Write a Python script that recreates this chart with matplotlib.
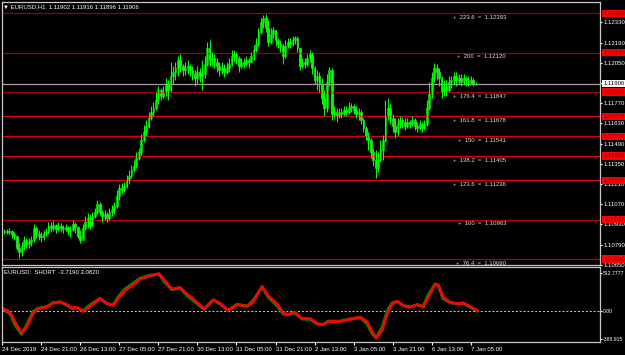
import matplotlib
matplotlib.use('Agg')
import matplotlib.pyplot as plt
from matplotlib.transforms import blended_transform_factory

plt.rcParams['font.family'] = ['Liberation Sans', 'DejaVu Sans']

# ---- chart data (EURUSD H1) ----
header_text = '▼ EURUSD,H1  1.11902 1.11916 1.11896 1.11906'
osc_header = 'EURUSD:  SHORT  -3.7190 3.0820'

first_open = 1.10877
closes = [1.10884, 1.10877, 1.10884, 1.10863, 1.10850, 1.10766, 1.10739, 1.10780, 1.10822, 1.10794,
          1.10808, 1.10822, 1.10905, 1.10863, 1.10850, 1.10843, 1.10870, 1.10877, 1.10919, 1.10905,
          1.10926, 1.10898, 1.10919, 1.10905, 1.10898, 1.10912, 1.10884, 1.10891, 1.10933, 1.10912,
          1.10850, 1.10822, 1.10905, 1.10947, 1.10974, 1.10919, 1.10988, 1.11016, 1.11071, 1.11016,
          1.10988, 1.11002, 1.10974, 1.11016, 1.11030, 1.11057, 1.11127, 1.11182, 1.11168, 1.11196,
          1.11237, 1.11265, 1.11307, 1.11335, 1.11390, 1.11432, 1.11515, 1.11570, 1.11612, 1.11667,
          1.11709, 1.11737, 1.11792, 1.11861, 1.11820, 1.11847, 1.11903, 1.11861, 1.11958, 1.11986,
          1.12014, 1.12069, 1.12027, 1.12000, 1.12014, 1.12027, 1.12000, 1.11972, 1.11944, 1.11986,
          1.11958, 1.11972, 1.12042, 1.12152, 1.12069, 1.12083, 1.12055, 1.12027, 1.12000, 1.12014,
          1.11986, 1.12014, 1.12042, 1.12097, 1.12111, 1.12083, 1.12027, 1.12055, 1.12042, 1.12069,
          1.12055, 1.12097, 1.12139, 1.12180, 1.12263, 1.12333, 1.12360, 1.12291, 1.12194, 1.12249,
          1.12277, 1.12208, 1.12180, 1.12166, 1.12097, 1.12166, 1.12194, 1.12180, 1.12208, 1.12222,
          1.12152, 1.12027, 1.12055, 1.12042, 1.12083, 1.12111, 1.12014, 1.11931, 1.11958, 1.11903,
          1.11806, 1.11737, 1.11917, 1.12000, 1.11695, 1.11709, 1.11681, 1.11709, 1.11695, 1.11723,
          1.11709, 1.11737, 1.11750, 1.11723, 1.11695, 1.11709, 1.11653, 1.11598, 1.11543, 1.11515,
          1.11432, 1.11376, 1.11321, 1.11376, 1.11446, 1.11515, 1.11681, 1.11737, 1.11667, 1.11612,
          1.11570, 1.11626, 1.11653, 1.11640, 1.11612, 1.11640, 1.11626, 1.11653, 1.11612, 1.11598,
          1.11626, 1.11598, 1.11626, 1.11737, 1.11833, 1.11944, 1.12014, 1.11986, 1.11944, 1.11847,
          1.11889, 1.11861, 1.11917, 1.11931, 1.11958, 1.11931, 1.11944, 1.11917, 1.11944, 1.11931,
          1.11917, 1.11931, 1.11902, 1.11906]
highs = [1.10898, 1.10898, 1.10905, 1.10891, 1.10877, 1.10857, 1.10801, 1.10808, 1.10850, 1.10836,
         1.10836, 1.10850, 1.10933, 1.10919, 1.10891, 1.10877, 1.10891, 1.10905, 1.10947, 1.10947,
         1.10954, 1.10933, 1.10947, 1.10940, 1.10926, 1.10933, 1.10919, 1.10919, 1.10960, 1.10947,
         1.10919, 1.10891, 1.10933, 1.10988, 1.11009, 1.11002, 1.11016, 1.11044, 1.11099, 1.11085,
         1.11030, 1.11030, 1.11016, 1.11044, 1.11064, 1.11085, 1.11168, 1.11210, 1.11217, 1.11224,
         1.11272, 1.11307, 1.11342, 1.11376, 1.11432, 1.11459, 1.11556, 1.11619, 1.11653, 1.11709,
         1.11750, 1.11778, 1.11847, 1.11889, 1.11875, 1.11889, 1.11944, 1.11931, 1.12055, 1.12027,
         1.12055, 1.12097, 1.12111, 1.12042, 1.12055, 1.12069, 1.12042, 1.12027, 1.12000, 1.12027,
         1.12014, 1.12069, 1.12097, 1.12194, 1.12208, 1.12125, 1.12111, 1.12083, 1.12055, 1.12055,
         1.12042, 1.12055, 1.12083, 1.12139, 1.12139, 1.12125, 1.12097, 1.12083, 1.12083, 1.12097,
         1.12083, 1.12125, 1.12173, 1.12222, 1.12291, 1.12360, 1.12381, 1.12388, 1.12346, 1.12291,
         1.12298, 1.12277, 1.12222, 1.12208, 1.12180, 1.12208, 1.12222, 1.12222, 1.12236, 1.12236,
         1.12236, 1.12152, 1.12083, 1.12083, 1.12111, 1.12139, 1.12125, 1.12027, 1.12000, 1.11986,
         1.11944, 1.11861, 1.11972, 1.12021, 1.12014, 1.11750, 1.11737, 1.11737, 1.11737, 1.11750,
         1.11750, 1.11778, 1.11771, 1.11764, 1.11750, 1.11737, 1.11723, 1.11667, 1.11612, 1.11570,
         1.11529, 1.11459, 1.11446, 1.11432, 1.11515, 1.11549, 1.11792, 1.11806, 1.11764, 1.11695,
         1.11667, 1.11667, 1.11681, 1.11674, 1.11667, 1.11667, 1.11653, 1.11681, 1.11667, 1.11640,
         1.11653, 1.11640, 1.11653, 1.11792, 1.11917, 1.11986, 1.12049, 1.12042, 1.12014, 1.11958,
         1.11931, 1.11931, 1.11958, 1.11958, 1.11986, 1.11986, 1.11972, 1.11972, 1.11972, 1.11958,
         1.11958, 1.11958, 1.11944, 1.11916]
lows = [1.10863, 1.10863, 1.10863, 1.10836, 1.10822, 1.10753, 1.10697, 1.10711, 1.10753, 1.10766,
        1.10766, 1.10780, 1.10808, 1.10836, 1.10822, 1.10808, 1.10822, 1.10850, 1.10863, 1.10877,
        1.10884, 1.10870, 1.10884, 1.10877, 1.10870, 1.10884, 1.10857, 1.10843, 1.10884, 1.10870,
        1.10836, 1.10801, 1.10836, 1.10891, 1.10905, 1.10898, 1.10919, 1.10974, 1.11002, 1.10995,
        1.10947, 1.10960, 1.10947, 1.10960, 1.10988, 1.11002, 1.11044, 1.11099, 1.11147, 1.11154,
        1.11182, 1.11210, 1.11251, 1.11293, 1.11321, 1.11376, 1.11411, 1.11501, 1.11543, 1.11598,
        1.11653, 1.11681, 1.11723, 1.11764, 1.11792, 1.11806, 1.11820, 1.11792, 1.11847, 1.11903,
        1.11931, 1.11958, 1.11986, 1.11958, 1.11965, 1.11972, 1.11958, 1.11931, 1.11889, 1.11903,
        1.11917, 1.11861, 1.11944, 1.12027, 1.12027, 1.12027, 1.12014, 1.11986, 1.11958, 1.11972,
        1.11951, 1.11972, 1.11986, 1.12027, 1.12055, 1.12042, 1.11986, 1.12014, 1.12014, 1.12027,
        1.12014, 1.12055, 1.12069, 1.12125, 1.12166, 1.12249, 1.12291, 1.12263, 1.12166, 1.12180,
        1.12222, 1.12166, 1.12152, 1.12125, 1.12042, 1.12083, 1.12152, 1.12152, 1.12166, 1.12180,
        1.12125, 1.12000, 1.12014, 1.12014, 1.12027, 1.12055, 1.11972, 1.11903, 1.11861, 1.11847,
        1.11764, 1.11681, 1.11709, 1.11889, 1.11653, 1.11667, 1.11640, 1.11667, 1.11667, 1.11681,
        1.11681, 1.11695, 1.11709, 1.11695, 1.11667, 1.11653, 1.11626, 1.11570, 1.11515, 1.11446,
        1.11390, 1.11335, 1.11251, 1.11293, 1.11362, 1.11376, 1.11501, 1.11653, 1.11626, 1.11570,
        1.11529, 1.11543, 1.11598, 1.11598, 1.11584, 1.11598, 1.11598, 1.11612, 1.11584, 1.11570,
        1.11584, 1.11570, 1.11584, 1.11612, 1.11723, 1.11806, 1.11917, 1.11931, 1.11889, 1.11806,
        1.11820, 1.11820, 1.11847, 1.11875, 1.11903, 1.11889, 1.11903, 1.11889, 1.11903, 1.11889,
        1.11889, 1.11903, 1.11889, 1.11896]

fib_levels = [223.6, 200, 176.4, 161.8, 150, 138.2, 123.6, 100, 76.4]
fib_prices = [1.12393, 1.12120, 1.11847, 1.11678, 1.11541, 1.11405, 1.11236, 1.10963, 1.10690]
fib_colors = ['#9a0000', '#a00000', '#a00000', '#e00000', '#e00000', '#e00000', '#e00000', '#b80000', '#b00000']
last_price = 1.11906

price_ticks = [1.12330, 1.12190, 1.12050, 1.11910, 1.11770, 1.11630, 1.11490,
               1.11350, 1.11210, 1.11070, 1.10930, 1.10790, 1.10650]

date_bars = [-1, 15, 31, 47, 63, 79, 95, 111, 127, 143, 159, 175, 191]
date_labels = ['24 Dec 2019', '24 Dec 21:00', '26 Dec 13:00', '27 Dec 05:00', '27 Dec 21:00',
               '30 Dec 13:00', '31 Dec 05:00', '31 Dec 21:00', '2 Jan 13:00', '3 Jan 05:00',
               '3 Jan 21:00', '6 Jan 13:00', '7 Jan 05:00']

# oscillator (bar position, value)
osc_bar = [-1.8, 2.3, 4.3, 7.0, 9.1, 11.7, 13.7, 17.4, 19.9, 22.7, 25.6, 27.7, 29.7, 32.2, 35.0,
           39.1, 42.0, 44.5, 46.5, 49.4, 52.7, 55.5, 59.6, 63.3, 65.8, 68.6, 71.9, 74.8, 78.1, 81.8,
           85.5, 88.3, 91.6, 95.3, 99.4, 101.8, 105.5, 108.0, 111.7, 114.1, 116.2, 119.0, 121.9,
           125.2, 128.1, 130.5, 132.6, 137.5, 141.6, 145.7, 148.6, 150.6, 152.3, 154.7, 156.8,
           158.8, 160.9, 163.4, 166.2, 169.1, 171.5, 173.6, 176.4, 177.7, 179.7, 182.6, 185.9,
           187.9, 190.8, 193.7]
osc_red = [51, -16, -150, -299, -218, -38, 30, 51, 105, 124, 87, 38, 51, -3, 61, 164, 105, 74, 164,
           276, 357, 433, 478, 509, 410, 299, 320, 231, 141, 28, 151, 105, 7, 87, 61, 118, 334, 209,
           97, -30, -47, -16, -105, -105, -172, -186, -145, -145, -114, -83, -150, -285, -366, -262,
           -38, 97, 132, 74, 51, 87, 51, 186, 366, 357, 186, 118, 97, 110, 61, 3.082]
osc_green = [45, -40, -190, -315, -190, -10, 35, 60, 112, 122, 78, 34, 42, 0, 80, 170, 98, 80, 190,
             300, 375, 445, 485, 500, 385, 290, 312, 210, 120, 20, 150, 95, 10, 90, 65, 140, 330, 190,
             70, -40, -50, -30, -110, -115, -180, -185, -140, -140, -110, -90, -180, -310, -370, -220,
             0, 110, 128, 68, 55, 85, 60, 220, 368, 340, 165, 112, 96, 105, 50, -3.719]
osc_ticks = [512.7777, 0.0, -388.915]
osc_tick_labels = ['512.7777', '0.00', '-388.915']

FS = 4.3
W, H = 625, 355


def style_axes(ax):
    ax.set_facecolor('black')
    for s in ax.spines.values():
        s.set_color('#c8c8c8')
        s.set_linewidth(0.9)
    ax.yaxis.tick_right()
    ax.tick_params(axis='y', colors='white', labelsize=FS, length=1.5, width=0.8, pad=1.0)


def draw_candles(ax):
    opens = [first_open] + closes[:-1]  # H1 forex bars open at previous close
    opens[-1] = 1.11902
    bars = list(range(len(closes)))
    bottoms, heights, fills = [], [], []
    for o, c in zip(opens, closes):
        bottoms.append(min(o, c))
        heights.append(abs(c - o))
        fills.append('#00b400' if c >= o else '#d8ffd8')
    ax.vlines(bars, lows, highs, color='#00ff00', lw=0.8)
    ax.bar(bars, heights, bottom=bottoms, width=0.72, color=fills,
           edgecolor='#00ff00', linewidth=0.4)


fig = plt.figure(figsize=(W / 100, H / 100), dpi=100, facecolor='black')
ax = fig.add_axes([2 / W, 1 - 265 / H, 598 / W, 263 / H])
ax2 = fig.add_axes([2 / W, 1 - 342 / H, 598 / W, 75 / H])
style_axes(ax)
style_axes(ax2)

# main price window
ax.set_xlim(-1.02, 243.9)
ax.set_ylim(1.10649, 1.12471)
ax.set_xticks([])
trans = blended_transform_factory(ax.transAxes, ax.transData)

for lvl, p, col in zip(fib_levels, fib_prices, fib_colors):
    ax.axhline(p, color=col, lw=0.9)
    ax.annotate('+  %g  =  %.5f' % (lvl, p), xy=(0.843, p), xycoords=trans,
                xytext=(0, -1.2), textcoords='offset points', ha='right', va='top',
                fontsize=FS, color='#dcdcdc')
ax.axhline(last_price, color='#a0a0a0', lw=0.9)

draw_candles(ax)

ax.set_yticks(price_ticks)
ax.set_yticklabels(['%.5f' % t for t in price_ticks])

for p in fib_prices:
    ax.annotate('%.5f' % p, xy=(1, p), xycoords=trans, xytext=(2.2, 0),
                textcoords='offset points', ha='left', va='center', fontsize=FS,
                color='#8a0000', annotation_clip=False,
                bbox=dict(boxstyle='square,pad=0.2', fc='#ff0000', ec='none'))
ax.annotate('%.5f' % last_price, xy=(1, last_price), xycoords=trans, xytext=(2.2, 0),
            textcoords='offset points', ha='left', va='center', fontsize=FS,
            color='black', annotation_clip=False,
            bbox=dict(boxstyle='square,pad=0.2', fc='white', ec='none'))

# oscillator window
ax2.set_xlim(-1.02, 243.9)
ax2.set_ylim(-424, 599)
ax2.axhline(0, color='#d0d0d0', lw=0.7, ls=(0, (2, 2)))
ax2.plot(osc_bar, osc_green, color='#008a00', lw=2.2, solid_capstyle='round')
ax2.plot(osc_bar, osc_red, color='#ff0000', lw=2.0, solid_capstyle='round')
ax2.set_yticks(osc_ticks)
ax2.set_yticklabels(osc_tick_labels, fontsize=3.7)
ax2.tick_params(axis='y', pad=0.6)
ax2.set_xticks(date_bars)
ax2.set_xticklabels(date_labels)
ax2.tick_params(axis='x', colors='white', labelsize=FS, length=2.2, width=0.8, pad=1.2)
for lbl in ax2.get_xticklabels():
    lbl.set_ha('left')

fig.text(3 / W, 1 - 7 / H, header_text, color='white', fontsize=FS, va='center', ha='left')
fig.text(4 / W, 1 - 273 / H, osc_header, color='white', fontsize=FS, va='center', ha='left')

fig.savefig('out.png', dpi=100, facecolor='black')
